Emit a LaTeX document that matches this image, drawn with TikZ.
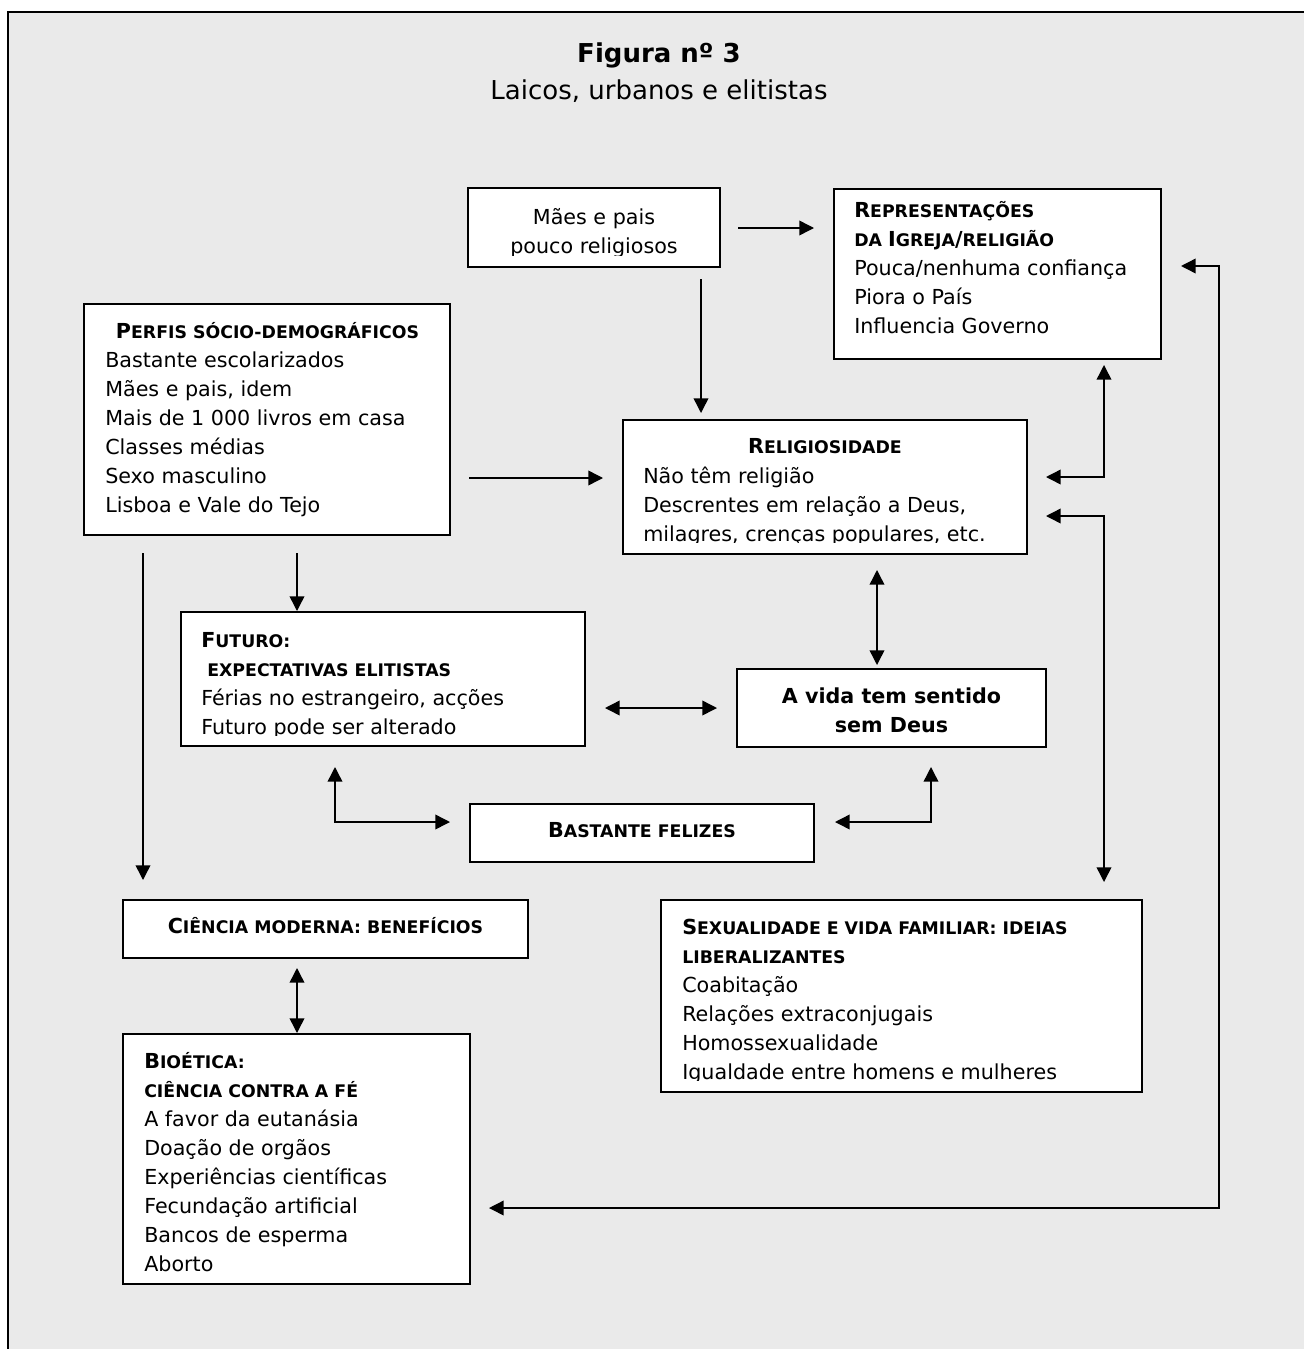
\documentclass[tikz,border=0pt]{standalone}
\usepackage{fontspec}
\setmainfont{DejaVu Sans}
\usetikzlibrary{arrows.meta,calc}
\definecolor{bggray}{RGB}{234,234,234}
\newcommand\bodyfont{\fontsize{15.5pt}{21.75pt}\selectfont}
\newcommand\titlefont{\fontsize{19.5pt}{23pt}\selectfont}
\newcommand\scx[1]{{\fontsize{13pt}{13pt}\selectfont #1}}
\tikzset{
  box/.style args={#1/#2}{draw=black, line width=1.5pt, fill=white, inner sep=0pt, outer sep=0pt,
    minimum width=#1*0.75pt, minimum height=#2*0.75pt},
  tipT/.tip={Triangle[length=11pt,width=11pt]},
  arr/.style={line width=1.1pt, -tipT},
  darr/.style={line width=1.1pt, tipT-tipT},
  txt/.style={anchor=base west, inner sep=0pt, font=\bodyfont},
  ctxt/.style={anchor=base, inner sep=0pt, font=\bodyfont},
  ttl/.style={anchor=base, inner sep=0pt, font=\titlefont},
  strip/.style={fill=white},
}
\begin{document}
\begin{tikzpicture}[x=0.75pt,y=-0.75pt]
\useasboundingbox (0,0) rectangle (1304,1349);
% background frame
\fill[bggray] (8,12) rectangle (1304,1349);
\draw[line width=1.5pt] (8,1349) -- (8,12) -- (1304,12);

% title
\node[ttl, font=\titlefont\bfseries] (title) at (659,62) {Figura nº 3};
\node[ttl] (subtitle) at (659,99) {Laicos, urbanos e elitistas};

% boxes
\node[box=252/79]  (maes)   at (594,227.5) {};
\node[box=327/170] (rep)    at (997.5,274) {};
\node[box=366/231] (perfis) at (267,419.5) {};
\node[box=404/134] (rel)    at (825,487) {};
\node[box=404/134] (fut)    at (383,679) {};
\node[box=309/78]  (vida)   at (891.5,708) {};
\node[box=344/58]  (fel)    at (642,833) {};
\node[box=405/58]  (cie)    at (325.5,929) {};
\node[box=347/250] (bio)    at (296.5,1159) {};
\node[box=481/192] (sex)    at (901.5,996) {};

% texts
\node[ctxt] (tmaes) at (594,224) {\begin{tabular}[t]{@{}c@{}}Mães e pais\\pouco religiosos\end{tabular}};
\node[txt] (trep) at (854,217) {\begin{tabular}[t]{@{}l@{}}
  \textbf{R\scx{EPRESENTAÇÕES}}\\
  \textbf{\scx{DA }I\scx{GREJA}/\scx{RELIGIÃO}}\\
  Pouca/nenhuma confiança\\
  Piora o País\\
  Influencia Governo\end{tabular}};
\node[txt] (tperfis) at (105,338) {\begin{tabular}[t]{@{}l@{}}
  \hspace{8pt}\textbf{P\scx{ERFIS SÓCIO-DEMOGRÁFICOS}}\\
  Bastante escolarizados\\
  Mães e pais, idem\\
  Mais de 1 000 livros em casa\\
  Classes médias\\
  Sexo masculino\\
  Lisboa e Vale do Tejo\end{tabular}};
\node[ctxt, font=\bodyfont\bfseries] (trelh) at (825,453) {R\scx{ELIGIOSIDADE}};
\node[txt] (trel) at (643,483) {\begin{tabular}[t]{@{}l@{}}
  Não têm religião\\
  Descrentes em relação a Deus,\\
  milagres, crenças populares, etc.\end{tabular}};
\node[txt] (tfut) at (201,647) {\begin{tabular}[t]{@{}l@{}}
  \textbf{F\scx{UTURO:}}\\
  \hspace{4.5pt}\textbf{\scx{EXPECTATIVAS ELITISTAS}}\\
  Férias no estrangeiro, acções\\
  Futuro pode ser alterado\end{tabular}};
\node[ctxt, font=\bodyfont\bfseries] (tvida) at (891.5,703) {\begin{tabular}[t]{@{}c@{}}A vida tem sentido\\sem Deus\end{tabular}};
\node[ctxt, font=\bodyfont\bfseries] (tfel) at (642,837) {B\scx{ASTANTE FELIZES}};
\node[ctxt, font=\bodyfont\bfseries] (tcie) at (325.5,933) {C\scx{IÊNCIA MODERNA: BENEFÍCIOS}};
\node[txt] (tbio) at (144,1068) {\begin{tabular}[t]{@{}l@{}}
  \textbf{B\scx{IOÉTICA:}}\\
  \textbf{\scx{CIÊNCIA CONTRA A FÉ}}\\
  A favor da eutanásia\\
  Doação de orgãos\\
  Experiências científicas\\
  Fecundação artificial\\
  Bancos de esperma\\
  Aborto\end{tabular}};
\node[txt] (tsex) at (682,934) {\begin{tabular}[t]{@{}l@{}}
  \textbf{S\scx{EXUALIDADE E VIDA FAMILIAR: IDEIAS}}\\
  \textbf{\scx{LIBERALIZANTES}}\\
  Coabitação\\
  Relações extraconjugais\\
  Homossexualidade\\
  Igualdade entre homens e mulheres\end{tabular}};

% text clipped at the bottom of some boxes
\fill[strip] (469.5,256) rectangle (718.5,265.8);
\fill[strip] (624.5,543) rectangle (1025.5,552.8);
\fill[strip] (182.5,735.5) rectangle (583.5,744.8);
\fill[strip] (662.5,1081) rectangle (1140.5,1090.8);

% connectors
\draw[arr] ($(maes.east)+(18,0.5)$) -- ($(rep.west)+(-20,-46)$);
\draw[arr] ($(maes.south)+(107,12)$) -- ($(rel.north)+(-124,-7)$);
\draw[arr] ($(perfis.east)+(19,58.5)$) -- ($(rel.west)+(-20,-9)$);
\draw[darr] ($(rel.east)+(19,-10)$) -| ($(rep.south)+(106.5,6)$);
\draw[darr] ($(rel.east)+(19,29)$) -| ($(sex.north)+(202.5,-18)$);
\draw[darr] ($(rep.east)+(20,-8)$) -- ($(rep.east)+(58,-8)$) |- ($(bio.east)+(19,49)$);
\draw[arr] ($(perfis.south)+(30,18)$) -- ($(fut.north)+(-86,-1)$);
\draw[arr] ($(perfis.south)+(-124,18)$) -- ($(cie.north)+(-182.5,-20)$);
\draw[darr] ($(rel.south)+(52,16)$) -- ($(vida.north)+(-14.5,-4)$);
\draw[darr] ($(fut.east)+(20,29)$) -- ($(vida.west)+(-20,0)$);
\draw[darr] ($(fut.south)+(-48,21)$) |- ($(fel.west)+(-20,-11)$);
\draw[darr] ($(vida.south)+(39.5,20)$) |- ($(fel.east)+(21,-11)$);
\draw[darr] ($(cie.south)+(-28.5,10)$) -- ($(bio.north)+(0.5,-1)$);
\end{tikzpicture}
\end{document}
